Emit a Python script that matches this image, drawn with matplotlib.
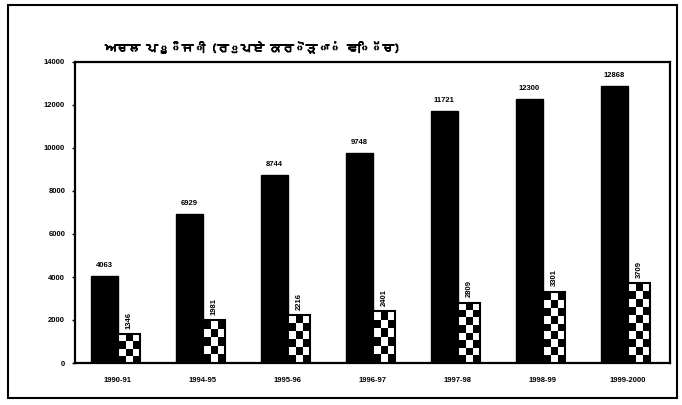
import matplotlib
matplotlib.use('Agg')
import matplotlib.pyplot as plt
import matplotlib.patheffects as pe
import numpy as np
from matplotlib import font_manager as fm
from matplotlib.patches import Rectangle

years = ['1990-91', '1994-95', '1995-96', '1996-97', '1997-98', '1998-99', '1999-2000']
fixed_capital = [4063, 6929, 8744, 9748, 11721, 12300, 12868]
second_series = [1346, 1981, 2216, 2401, 2809, 3301, 3709]
yticks = [0, 2000, 4000, 6000, 8000, 10000, 12000, 14000]
title = 'ਅਚਲ ਪੂੰਜੀ (ਰੁਪਏ ਕਰੋੜਾਂ ਵਿੱਚ)'


def find_gurmukhi():
    try:
        from fontTools.ttLib import TTFont
    except Exception:
        return None
    for f in fm.findSystemFonts():
        try:
            t = TTFont(f, fontNumber=0, lazy=True)
            cmap = t.getBestCmap()
            if cmap and 0x0A05 in cmap:
                return fm.FontProperties(fname=f).get_name()
        except Exception:
            pass
    return None


gur = find_gurmukhi()
title_family = ([gur] if gur else []) + ['DejaVu Sans']
num_font = 'Liberation Sans'

W, H = 682, 405
fig = plt.figure(figsize=(W / 100, H / 100), dpi=100)
left, right, top, bottom = 75, 670, 62, 363
ax = fig.add_axes([left / W, (H - bottom) / H, (right - left) / W, (bottom - top) / H])

x = np.arange(len(years))
bw = 0.31
b1 = ax.bar(x - bw / 2, fixed_capital, width=bw, color='black', edgecolor='black', zorder=2)
b2 = ax.bar(x + bw / 2 - 0.02, second_series, width=bw - 0.04, color='black', edgecolor='black',
            linewidth=1.2, zorder=2)

ax.set_xlim(-0.5, len(years) - 0.5)
ax.set_ylim(0, 14000)

# checkerboard fill for second series
fig.canvas.draw()
for r in b2:
    x0, y0 = r.get_x(), r.get_y()
    w, h = r.get_width(), r.get_height()
    p0 = ax.transData.transform((x0, y0))
    p1 = ax.transData.transform((x0 + w, y0 + h))
    ncol = max(1, int(round((p1[0] - p0[0]) / 8)))
    nrow = max(1, int(round((p1[1] - p0[1]) / 8)))
    board = (np.add.outer(np.arange(nrow), np.arange(ncol)) % 2).astype(float)
    im = ax.imshow(board, cmap='gray', vmin=0, vmax=1, extent=(x0, x0 + w, y0, y0 + h),
                   origin='lower', aspect='auto', interpolation='nearest', zorder=3)
    im.set_clip_path(r)
    edge = Rectangle((x0, y0), w, h, facecolor='none', edgecolor='black', linewidth=1.5, zorder=4)
    ax.add_patch(edge)

ax.set_xlim(-0.5, len(years) - 0.5)
ax.set_ylim(0, 14000)
ax.set_aspect('auto')

for r, v in zip(b1, fixed_capital):
    ax.annotate(str(v), (r.get_x() + r.get_width() / 2, v), xytext=(0, 5), textcoords='offset points',
                ha='center', va='bottom', fontsize=5.5, fontweight='bold', family=num_font)
for r, v in zip(b2, second_series):
    ax.annotate(str(v), (r.get_x() + r.get_width() / 2, v), xytext=(0, 4), textcoords='offset points',
                ha='center', va='bottom', fontsize=5.5, fontweight='bold', family=num_font, rotation=90)

ax.set_yticks(yticks)
ax.set_yticklabels([str(t) for t in yticks], fontsize=5.5, fontweight='bold', family=num_font)
ax.set_xticks(x)
ax.set_xticklabels(years, fontsize=5.5, fontweight='bold', family=num_font)
ax.tick_params(axis='y', length=2, width=1, pad=5)
ax.tick_params(axis='x', length=0, pad=10)
for s in ax.spines.values():
    s.set_linewidth(1.6)

fig.text(105 / W, 1 - 52 / H, title, fontsize=8.5, fontweight='bold', family=title_family, va='baseline',
         path_effects=[pe.withStroke(linewidth=0.7, foreground='black')])

fig.add_artist(Rectangle((8 / W, (H - 398) / H), (677 - 8) / W, (398 - 5) / H, transform=fig.transFigure,
                         facecolor='none', edgecolor='black', linewidth=1.5))

fig.savefig('out.png', dpi=100)
